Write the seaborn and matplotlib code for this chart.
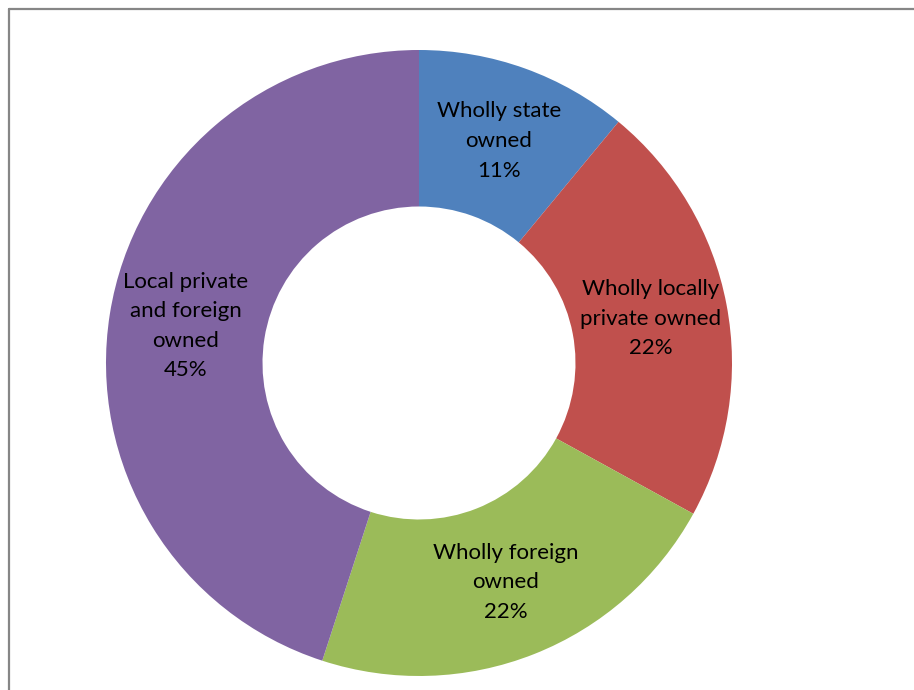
import matplotlib
matplotlib.use("Agg")
import matplotlib.pyplot as plt
import seaborn as sns
from matplotlib.lines import Line2D

categories = ["Wholly state\nowned", "Wholly locally\nprivate owned", "Wholly foreign\nowned", "Local private\nand foreign\nowned"]
values = [11, 22, 22, 45]
colors = ["#4F81BD", "#C0504D", "#9BBB59", "#8064A2"]

sns.set_theme(style="white")
plt.rcParams['font.family'] = ['Lato', 'DejaVu Sans']

W, H = 914, 690
fig = plt.figure(figsize=(W / 100, H / 100), dpi=100)
ax = fig.add_axes([0, 0, 1, 1])

cx, cy, R = 419, H - 363, 313
labels = [f"{c}\n{v}%" for c, v in zip(categories, values)]
wedges, texts = ax.pie(values, labels=labels, colors=sns.color_palette(colors),
                       startangle=90, counterclock=False, center=(cx, cy), radius=R,
                       labeldistance=0.754, frame=True,
                       wedgeprops=dict(width=R * 0.5, linewidth=0),
                       textprops=dict(ha="center", va="center", fontsize=16,
                                      color="black", linespacing=1.6,
                                      multialignment="center"))
ax.set_xlim(0, W)
ax.set_ylim(0, H)
ax.set_aspect("auto")
ax.axis("off")

fig.add_artist(Line2D([8.5 / W, 1], [1 - 8.5 / H, 1 - 8.5 / H], color="#868686", lw=1.6, transform=fig.transFigure))
fig.add_artist(Line2D([8.5 / W, 8.5 / W], [0, 1 - 8.5 / H], color="#868686", lw=1.6, transform=fig.transFigure))

fig.savefig("out.png", dpi=100, facecolor="white")
